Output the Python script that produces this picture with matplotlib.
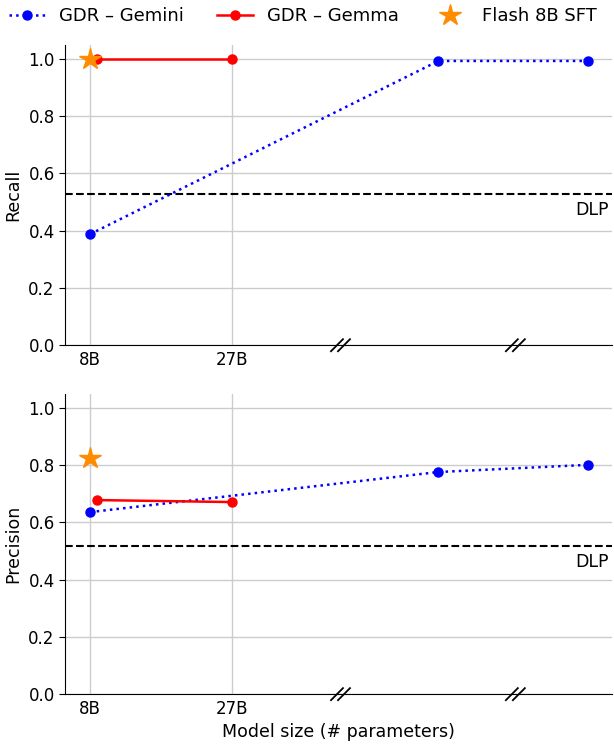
import numpy as np
import matplotlib.pyplot as plt
import matplotlib.transforms as mtransforms

# x positions on a broken axis (8B, 27B, then two larger unlabeled models)
gemini_x = [8, 54.6, 74.6]
gemma_x = [8.9, 27]
sft_x = [8]

gemini_recall = [0.388, 0.993, 0.993]
gemma_recall = [1.0, 1.0]
sft_recall = [1.0]
dlp_recall = 0.528

gemini_prec = [0.636, 0.776, 0.801]
gemma_prec = [0.678, 0.671]
sft_prec = [0.825]
dlp_prec = 0.517

tick_pos = [8, 27]
tick_labels = ['8B', '27B']
break_pos = [41.5, 64.9]

fig = plt.figure(figsize=(6.14, 7.44), dpi=100)
ax1 = fig.add_axes([0.106, 0.536, 0.891, 0.404])
ax2 = fig.add_axes([0.106, 0.067, 0.891, 0.404])

panels = [(ax1, gemini_recall, gemma_recall, sft_recall, dlp_recall, 'Recall'),
          (ax2, gemini_prec, gemma_prec, sft_prec, dlp_prec, 'Precision')]

for ax, gem, gma, sft, dlp, lab in panels:
    ax.plot(gemini_x, gem, color='blue', linestyle=':', linewidth=1.8,
            marker='o', markersize=6.5, label='GDR – Gemini', zorder=3)
    ax.plot(gemma_x, gma, color='red', linestyle='-', linewidth=1.8,
            marker='o', markersize=6.5, label='GDR – Gemma', zorder=3)
    ax.plot(sft_x, sft, color='darkorange', linestyle='none', marker='*',
            markersize=16, label='Flash 8B SFT', zorder=4)
    ax.axhline(dlp, color='black', linestyle='--', linewidth=1.5, zorder=2)
    ax.text(0.993, dlp - 0.025, 'DLP', transform=ax.get_yaxis_transform(),
            ha='right', va='top', fontsize=12.5)

    ax.set_xlim(4.65, 77.85)
    ax.set_ylim(0, 1.05)
    ax.set_yticks(np.arange(0, 1.01, 0.2))
    ax.set_yticklabels(['%.1f' % v for v in np.arange(0, 1.01, 0.2)])
    ax.set_xticks(tick_pos)
    ax.set_xticklabels(tick_labels)
    ax.tick_params(axis='x', length=0, pad=4, labelsize=12)
    ax.tick_params(axis='y', length=4, labelsize=12)
    ax.grid(True, color='#cccccc', linewidth=1)
    ax.set_axisbelow(True)
    ax.set_ylabel(lab, fontsize=12.5)
    for s in ['top', 'right']:
        ax.spines[s].set_visible(False)

    # break marks on the x axis
    trans = mtransforms.blended_transform_factory(ax.transData, ax.transAxes)
    for bx in break_pos:
        for off in [-0.47, 0.47]:
            ax.plot([bx + off - 0.8, bx + off + 0.8], [-0.02, 0.02],
                    color='black', linewidth=1.3, transform=trans,
                    clip_on=False)

ax2.set_xlabel('Model size (# parameters)', fontsize=12.5)

handles, labels = ax1.get_legend_handles_labels()
fig.legend(handles, labels, loc='upper center', ncol=3, frameon=False,
           bbox_to_anchor=(0.493, 1.012), fontsize=13, handlelength=2,
           handletextpad=0.8, columnspacing=1.8)

fig.savefig('out.png', dpi=100)
